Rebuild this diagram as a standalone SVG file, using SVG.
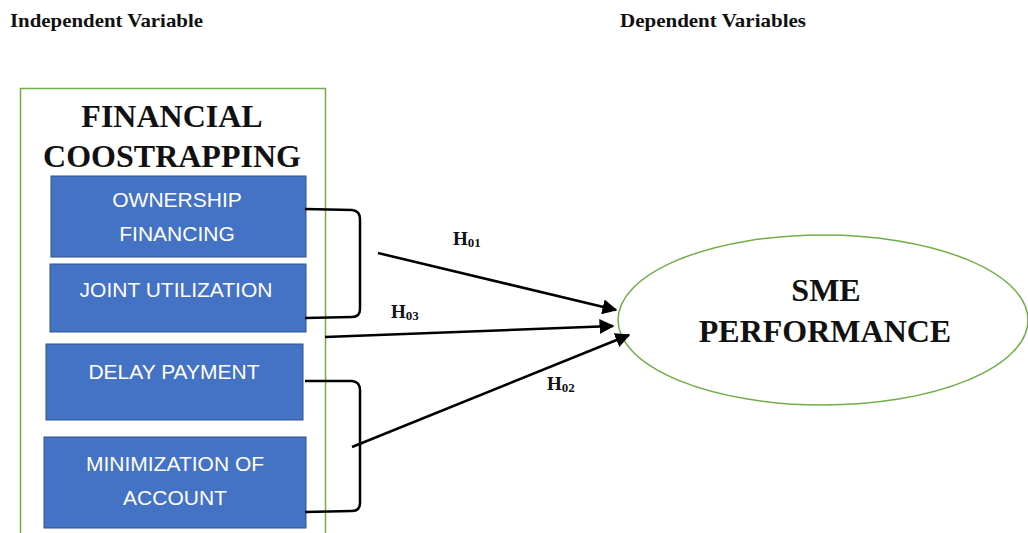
<svg xmlns="http://www.w3.org/2000/svg" width="1028" height="533" viewBox="0 0 1028 533">
  <defs>
    <marker id="arrow" viewBox="0 0 10 10" refX="9" refY="5" markerWidth="6" markerHeight="6" markerUnits="strokeWidth" orient="auto">
      <path d="M0,0 L10,5 L0,10 Z" fill="#000"/>
    </marker>
    <style>
      .hdr { font-family: "Liberation Serif", serif; font-weight: bold; font-size: 19px; fill: #111; }
      .big { font-family: "Liberation Serif", serif; font-weight: bold; font-size: 32px; fill: #111; text-anchor: middle; }
      .box { fill: #4472C4; stroke: #2F528F; stroke-width: 1; }
      .lbl { font-family: "Liberation Sans", sans-serif; font-size: 21px; fill: #fff; text-anchor: middle; }
      .hyp { font-family: "Liberation Serif", serif; font-weight: bold; font-size: 19px; fill: #111; }
      .hyp tspan { font-size: 13px; }
      .frame { fill: none; stroke: #70AD47; stroke-width: 1.5; }
      .brace { fill: none; stroke: #000; stroke-width: 2.5; }
      .arr { fill: none; stroke: #000; stroke-width: 2.5; marker-end: url(#arrow); }
    </style>
  </defs>
  <rect width="1028" height="533" fill="#fff"/>

  <text class="hdr" x="10" y="27" textLength="193" lengthAdjust="spacingAndGlyphs">Independent Variable</text>
  <text class="hdr" x="620" y="27" textLength="186" lengthAdjust="spacingAndGlyphs">Dependent Variables</text>

  <!-- independent construct frame -->
  <g id="financial-coostrapping">
    <rect class="frame" x="20.5" y="88.5" width="305" height="460"/>
    <text class="big" x="172" y="127">FINANCIAL</text>
    <text class="big" x="172" y="167">COOSTRAPPING</text>
  </g>

  <g id="ownership-financing">
    <rect class="box" x="51" y="176" width="255" height="81"/>
    <text class="lbl" x="177" y="207">OWNERSHIP</text>
    <text class="lbl" x="177" y="241">FINANCING</text>
  </g>

  <g id="joint-utilization">
    <rect class="box" x="50" y="264" width="256" height="68"/>
    <text class="lbl" x="176" y="297">JOINT UTILIZATION</text>
  </g>

  <g id="delay-payment">
    <rect class="box" x="46" y="344" width="257" height="76"/>
    <text class="lbl" x="174" y="379">DELAY PAYMENT</text>
  </g>

  <g id="minimization-of-account">
    <rect class="box" x="44" y="437" width="262" height="91"/>
    <text class="lbl" x="175" y="471">MINIMIZATION OF</text>
    <text class="lbl" x="175" y="505">ACCOUNT</text>
  </g>

  <!-- dependent construct -->
  <g id="sme-performance">
    <ellipse cx="823" cy="320" rx="205" ry="85" fill="none" stroke="#70AD47" stroke-width="1.5"/>
    <text class="big" x="826" y="301">SME</text>
    <text class="big" x="825" y="342">PERFORMANCE</text>
  </g>

  <g id="connectors">
    <!-- grouping brackets -->
    <path class="brace" d="M305,209 L352,210 Q360,211 360,219 L360,309 Q360,317 352,317 L305,318"/>
    <path class="brace" d="M305,381 L352,381 Q360,382 360,390 L360,503 Q360,511 352,511 L305,512"/>
    <!-- hypothesis paths -->
    <path class="arr" d="M378,253 L616,310"/>
    <path class="arr" d="M325,337 L613,326"/>
    <path class="arr" d="M352,447 L629,335"/>
    <text class="hyp" x="453" y="245">H<tspan dy="2">01</tspan></text>
    <text class="hyp" x="391" y="318">H<tspan dy="2">03</tspan></text>
    <text class="hyp" x="547" y="390">H<tspan dy="2">02</tspan></text>
  </g>
</svg>
